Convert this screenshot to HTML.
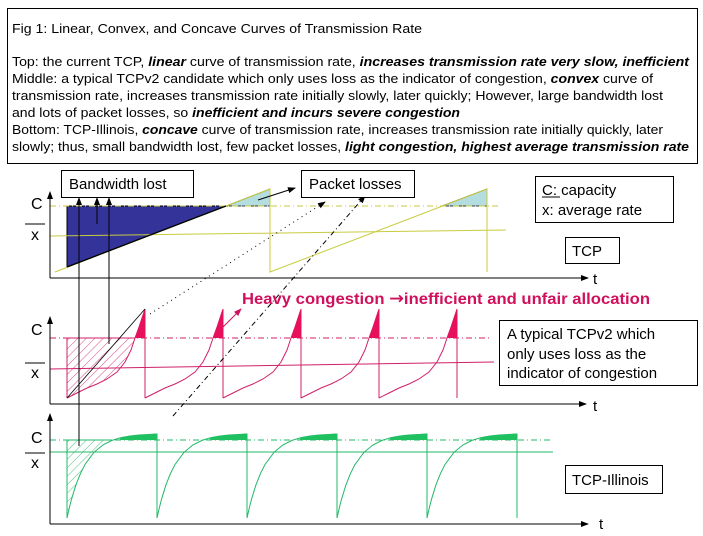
<!DOCTYPE html>
<html><head><meta charset="utf-8"><style>
html,body{margin:0;padding:0;background:#fff;}
svg{display:block;font-family:"Liberation Sans",Arial,sans-serif;}
</style></head><body>
<svg width="703" height="536" viewBox="0 0 703 536" xmlns="http://www.w3.org/2000/svg">
<defs>
<pattern id="hm" width="6" height="6" patternUnits="userSpaceOnUse" patternTransform="rotate(45)">
<line x1="0" y1="0" x2="0" y2="6" stroke="#d0206a" stroke-width="0.8"/></pattern>
<pattern id="hg" width="6" height="6" patternUnits="userSpaceOnUse" patternTransform="rotate(45)">
<line x1="0" y1="0" x2="0" y2="6" stroke="#22b868" stroke-width="0.8"/></pattern>
<marker id="ar" markerWidth="8" markerHeight="8" refX="7" refY="4" orient="auto" markerUnits="userSpaceOnUse">
<path d="M0,1 L8,4 L0,7 Z" fill="#000"/></marker>
<marker id="arm" markerWidth="8" markerHeight="8" refX="7" refY="4" orient="auto" markerUnits="userSpaceOnUse">
<path d="M0,1 L8,4 L0,7 Z" fill="#d0105c"/></marker>
<g id="mc">
<path d="M0,398 L10,393 L20,388 L30,384 L40,379 L50,372 L58,362 L64,350 L68,338 L72,327 L78,309 L78,398" fill="none" stroke="#d0206a" stroke-width="1"/>
<path d="M68,338 L72,327 L78,309 L78,338 Z" fill="#e8105a"/>
</g>
<g id="gc">
<path d="M0,518 L2.25,508.1 L4.5,499.3 L9,484.7 L13.5,473.4 L18,464.5 L27,452.3 L36,444.9 L45,440.4 L54,437.6 L63,436 L72,435 L90,434 L90,518" fill="none" stroke="#22b868" stroke-width="1"/>
<path d="M52,440 L54,437.6 L63,436 L72,435 L90,433.5 L90,440 Z" fill="#1ec060"/>
</g>
</defs>

<rect x="7.5" y="8.5" width="690" height="155" fill="#fff" stroke="#000" stroke-width="1"/>
<g font-size="13" fill="#000">
<text x="12" y="33" textLength="410" lengthAdjust="spacingAndGlyphs">Fig 1: Linear, Convex, and Concave Curves of Transmission Rate</text>
<text x="12" y="66" textLength="677" lengthAdjust="spacingAndGlyphs">Top: the current TCP, <tspan font-weight="bold" font-style="italic">linear</tspan> curve of transmission rate, <tspan font-weight="bold" font-style="italic">increases transmission rate very slow, inefficient</tspan></text>
<text x="12" y="83" textLength="641" lengthAdjust="spacingAndGlyphs">Middle: a typical TCPv2 candidate which only uses loss as the indicator of congestion, <tspan font-weight="bold" font-style="italic">convex</tspan> curve of</text>
<text x="12" y="100" textLength="651" lengthAdjust="spacingAndGlyphs">transmission rate, increases transmission rate initially slowly, later quickly; However, large bandwidth lost</text>
<text x="12" y="117" textLength="448" lengthAdjust="spacingAndGlyphs">and lots of packet losses, so <tspan font-weight="bold" font-style="italic">inefficient and incurs severe congestion</tspan></text>
<text x="12" y="134" textLength="651" lengthAdjust="spacingAndGlyphs">Bottom: TCP-Illinois, <tspan font-weight="bold" font-style="italic">concave</tspan> curve of transmission rate, increases transmission rate initially quickly, later</text>
<text x="12" y="151" textLength="677" lengthAdjust="spacingAndGlyphs">slowly; thus, small bandwidth lost, few packet losses, <tspan font-weight="bold" font-style="italic">light congestion, highest average transmission rate</tspan></text>
</g>

<!-- TOP -->
<polygon points="67,206 226,206 67,267" fill="#333399" stroke="#000" stroke-width="1"/>
<polygon points="226,206 270,189 270,206" fill="#b4dde0" stroke="#000" stroke-width="0.8"/>
<polygon points="442,206 487,189 487,206" fill="#b4dde0" stroke="#000" stroke-width="0.8"/>
<line x1="50" y1="206" x2="500" y2="206" stroke="#c8c840" stroke-width="1" stroke-dasharray="6,3,1,3"/>
<line x1="50" y1="236" x2="506" y2="230" stroke="#c8cc40" stroke-width="1"/>
<polyline points="55,272 270,189 270,272 487,189 487,272" fill="none" stroke="#c8cc40" stroke-width="1"/>
<line x1="67" y1="267" x2="226" y2="206" stroke="#000" stroke-width="1.3"/>
<line x1="50" y1="278" x2="50" y2="192" stroke="#000" stroke-width="1" marker-end="url(#ar)"/>
<line x1="50" y1="278" x2="588" y2="278" stroke="#000" stroke-width="1" marker-end="url(#ar)"/>
<text x="593" y="284" font-size="15">t</text>

<!-- MIDDLE -->
<path d="M67,338 L135,338 L131,350 L125,362 L117,372 L107,379 L97,384 L87,388 L77,393 L67,398 Z" fill="url(#hm)"/>
<line x1="67" y1="338" x2="67" y2="398" stroke="#d0206a" stroke-width="1"/>
<line x1="50" y1="338" x2="490" y2="338" stroke="#d0206a" stroke-width="1" stroke-dasharray="6,3,1,3"/>
<line x1="67" y1="338" x2="135" y2="338" stroke="#d0206a" stroke-width="1"/>
<line x1="50" y1="369" x2="494" y2="362" stroke="#d0206a" stroke-width="1"/>
<use href="#mc" transform="translate(67,0)"/>
<use href="#mc" transform="translate(145,0)"/>
<use href="#mc" transform="translate(223,0)"/>
<use href="#mc" transform="translate(301,0)"/>
<use href="#mc" transform="translate(379,0)"/>
<line x1="67" y1="398" x2="145" y2="309" stroke="#000" stroke-width="0.8"/>
<line x1="50" y1="404" x2="50" y2="317" stroke="#000" stroke-width="1" marker-end="url(#ar)"/>
<line x1="50" y1="404" x2="586" y2="404" stroke="#000" stroke-width="1" marker-end="url(#ar)"/>
<text x="593" y="411" font-size="15">t</text>

<!-- BOTTOM -->
<path d="M67,440 L112,440 L103,444.9 L94,452.3 L85,464.5 L80.5,473.4 L76,484.7 L71.5,499.3 L69.25,508.1 L67,518 Z" fill="url(#hg)"/>
<line x1="67" y1="440" x2="67" y2="518" stroke="#22b868" stroke-width="1"/>
<line x1="50" y1="440" x2="553" y2="440" stroke="#22b868" stroke-width="1" stroke-dasharray="6,3,1,3"/>
<line x1="67" y1="440" x2="112" y2="440" stroke="#22b868" stroke-width="1"/>
<line x1="50" y1="452" x2="553" y2="452" stroke="#22b868" stroke-width="1"/>
<use href="#gc" transform="translate(67,0)"/>
<use href="#gc" transform="translate(157,0)"/>
<use href="#gc" transform="translate(247,0)"/>
<use href="#gc" transform="translate(337,0)"/>
<use href="#gc" transform="translate(427,0)"/>
<line x1="50" y1="524" x2="50" y2="414" stroke="#000" stroke-width="1" marker-end="url(#ar)"/>
<line x1="50" y1="524" x2="588" y2="524" stroke="#000" stroke-width="1" marker-end="url(#ar)"/>
<text x="599" y="529" font-size="15">t</text>

<g font-size="16" fill="#000">
<text x="31" y="209">C</text><line x1="25" y1="224" x2="45" y2="224" stroke="#000"/><text x="31" y="240">x</text>
<text x="31" y="335">C</text><line x1="25" y1="363" x2="45" y2="363" stroke="#000"/><text x="31" y="378">x</text>
<text x="31" y="443">C</text><line x1="25" y1="453" x2="45" y2="453" stroke="#000"/><text x="31" y="468">x</text>
</g>

<line x1="79" y1="446" x2="79" y2="198" stroke="#000" stroke-width="1" marker-end="url(#ar)"/>
<line x1="109" y1="344" x2="109" y2="198" stroke="#000" stroke-width="1" marker-end="url(#ar)"/>
<line x1="97" y1="224" x2="97" y2="198" stroke="#000" stroke-width="1" marker-end="url(#ar)"/>
<line x1="258" y1="200" x2="295" y2="188" stroke="#000" stroke-width="1" marker-end="url(#ar)"/>
<line x1="150" y1="314" x2="325" y2="202" stroke="#000" stroke-width="1" stroke-dasharray="1,4" marker-end="url(#ar)"/>
<line x1="173" y1="416" x2="365" y2="196" stroke="#000" stroke-width="1" stroke-dasharray="5,3,1,3" marker-end="url(#ar)"/>
<line x1="223" y1="327" x2="241" y2="309" stroke="#d0105c" stroke-width="1" marker-end="url(#arm)"/>

<rect x="61.5" y="170.5" width="132" height="27" fill="#fff" stroke="#000"/>
<text x="69" y="189" font-size="15">Bandwidth lost</text>
<rect x="301.5" y="170.5" width="113" height="27" fill="#fff" stroke="#000"/>
<text x="309" y="189" font-size="15">Packet losses</text>
<rect x="535.5" y="176.5" width="138" height="46" fill="#fff" stroke="#000"/>
<text x="542" y="195" font-size="15">C: capacity</text>
<line x1="542" y1="197" x2="560" y2="197" stroke="#000"/>
<text x="542" y="215" font-size="15">x: average rate</text>
<rect x="565.5" y="237.5" width="54" height="26" fill="#fff" stroke="#000"/>
<text x="572" y="256" font-size="15">TCP</text>
<rect x="499.5" y="320.5" width="198" height="65" fill="#fff" stroke="#000"/>
<text x="507" y="339" font-size="15">A typical TCPv2 which</text>
<text x="507" y="359" font-size="15">only uses loss as the</text>
<text x="507" y="378" font-size="15">indicator of congestion</text>
<rect x="565.5" y="465.5" width="97" height="28" fill="#fff" stroke="#000"/>
<text x="572" y="485" font-size="15">TCP-Illinois</text>

<text x="242" y="304" font-size="16" font-weight="bold" fill="#d0105c" textLength="408" lengthAdjust="spacingAndGlyphs">Heavy congestion <tspan font-family="DejaVu Sans" font-size="17">→</tspan>inefficient and unfair allocation</text>
</svg>
</body></html>
